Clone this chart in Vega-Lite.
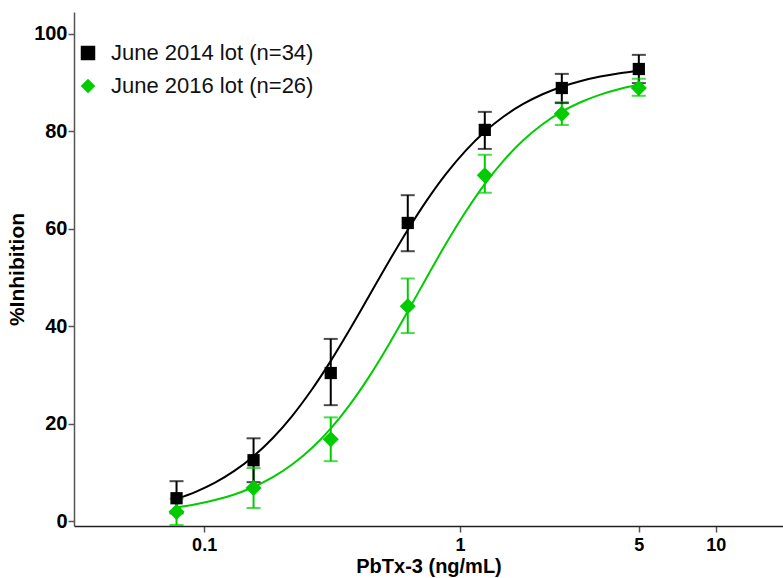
{
  "$schema": "https://vega.github.io/schema/vega-lite/v6.json",
  "width": 709,
  "height": 514,
  "autosize": {"type": "none"},
  "padding": {"left": 74, "top": 12, "right": 0, "bottom": 52},
  "background": "white",
  "datasets": {
    "pts": [
      {"series": "June 2016 lot (n=26)", "conc": 0.078, "inh": 1.9, "lo": -0.8, "hi": 4.6},
      {"series": "June 2016 lot (n=26)", "conc": 0.156, "inh": 6.8, "lo": 2.7, "hi": 10.9},
      {"series": "June 2016 lot (n=26)", "conc": 0.3125, "inh": 16.8, "lo": 12.3, "hi": 21.3},
      {"series": "June 2016 lot (n=26)", "conc": 0.625, "inh": 44.1, "lo": 38.6, "hi": 49.8},
      {"series": "June 2016 lot (n=26)", "conc": 1.25, "inh": 71.0, "lo": 67.4, "hi": 75.2},
      {"series": "June 2016 lot (n=26)", "conc": 2.5, "inh": 83.6, "lo": 81.3, "hi": 86.0},
      {"series": "June 2016 lot (n=26)", "conc": 5, "inh": 88.9, "lo": 87.3, "hi": 90.8},
      {"series": "June 2014 lot (n=34)", "conc": 0.078, "inh": 4.7, "lo": 1.6, "hi": 8.2},
      {"series": "June 2014 lot (n=34)", "conc": 0.156, "inh": 12.5, "lo": 8.0, "hi": 17.0},
      {"series": "June 2014 lot (n=34)", "conc": 0.3125, "inh": 30.4, "lo": 23.8, "hi": 37.4},
      {"series": "June 2014 lot (n=34)", "conc": 0.625, "inh": 61.2, "lo": 55.4, "hi": 66.9},
      {"series": "June 2014 lot (n=34)", "conc": 1.25, "inh": 80.3, "lo": 76.4, "hi": 84.0},
      {"series": "June 2014 lot (n=34)", "conc": 2.5, "inh": 88.9, "lo": 85.8, "hi": 91.8},
      {"series": "June 2014 lot (n=34)", "conc": 5, "inh": 92.8, "lo": 89.9, "hi": 95.7}
    ],
    "curve": [
      {"series": "June 2016 lot (n=26)", "conc": 0.078, "inh": 2.81},
      {"series": "June 2016 lot (n=26)", "conc": 0.0927, "inh": 3.45},
      {"series": "June 2016 lot (n=26)", "conc": 0.1103, "inh": 4.32},
      {"series": "June 2016 lot (n=26)", "conc": 0.1312, "inh": 5.48},
      {"series": "June 2016 lot (n=26)", "conc": 0.1561, "inh": 7.01},
      {"series": "June 2016 lot (n=26)", "conc": 0.1856, "inh": 9.01},
      {"series": "June 2016 lot (n=26)", "conc": 0.2207, "inh": 11.61},
      {"series": "June 2016 lot (n=26)", "conc": 0.2625, "inh": 14.9},
      {"series": "June 2016 lot (n=26)", "conc": 0.3122, "inh": 18.98},
      {"series": "June 2016 lot (n=26)", "conc": 0.3712, "inh": 23.91},
      {"series": "June 2016 lot (n=26)", "conc": 0.4416, "inh": 29.66},
      {"series": "June 2016 lot (n=26)", "conc": 0.5252, "inh": 36.11},
      {"series": "June 2016 lot (n=26)", "conc": 0.6246, "inh": 43.03},
      {"series": "June 2016 lot (n=26)", "conc": 0.743, "inh": 50.11},
      {"series": "June 2016 lot (n=26)", "conc": 0.8835, "inh": 57.03},
      {"series": "June 2016 lot (n=26)", "conc": 1.0507, "inh": 63.46},
      {"series": "June 2016 lot (n=26)", "conc": 1.2496, "inh": 69.19},
      {"series": "June 2016 lot (n=26)", "conc": 1.486, "inh": 74.1},
      {"series": "June 2016 lot (n=26)", "conc": 1.767, "inh": 78.17},
      {"series": "June 2016 lot (n=26)", "conc": 2.102, "inh": 81.45},
      {"series": "June 2016 lot (n=26)", "conc": 2.5, "inh": 84.03},
      {"series": "June 2016 lot (n=26)", "conc": 2.973, "inh": 86.02},
      {"series": "June 2016 lot (n=26)", "conc": 3.536, "inh": 87.55},
      {"series": "June 2016 lot (n=26)", "conc": 4.206, "inh": 88.7},
      {"series": "June 2016 lot (n=26)", "conc": 5, "inh": 89.56},
      {"series": "June 2014 lot (n=34)", "conc": 0.078, "inh": 4.55},
      {"series": "June 2014 lot (n=34)", "conc": 0.0927, "inh": 6.01},
      {"series": "June 2014 lot (n=34)", "conc": 0.1103, "inh": 7.89},
      {"series": "June 2014 lot (n=34)", "conc": 0.1312, "inh": 10.3},
      {"series": "June 2014 lot (n=34)", "conc": 0.1561, "inh": 13.33},
      {"series": "June 2014 lot (n=34)", "conc": 0.1856, "inh": 17.07},
      {"series": "June 2014 lot (n=34)", "conc": 0.2207, "inh": 21.57},
      {"series": "June 2014 lot (n=34)", "conc": 0.2625, "inh": 26.86},
      {"series": "June 2014 lot (n=34)", "conc": 0.3122, "inh": 32.84},
      {"series": "June 2014 lot (n=34)", "conc": 0.3712, "inh": 39.38},
      {"series": "June 2014 lot (n=34)", "conc": 0.4416, "inh": 46.24},
      {"series": "June 2014 lot (n=34)", "conc": 0.5252, "inh": 53.14},
      {"series": "June 2014 lot (n=34)", "conc": 0.6246, "inh": 59.77},
      {"series": "June 2014 lot (n=34)", "conc": 0.743, "inh": 65.9},
      {"series": "June 2014 lot (n=34)", "conc": 0.8835, "inh": 71.34},
      {"series": "June 2014 lot (n=34)", "conc": 1.0507, "inh": 76.01},
      {"series": "June 2014 lot (n=34)", "conc": 1.2496, "inh": 79.92},
      {"series": "June 2014 lot (n=34)", "conc": 1.486, "inh": 83.1},
      {"series": "June 2014 lot (n=34)", "conc": 1.767, "inh": 85.63},
      {"series": "June 2014 lot (n=34)", "conc": 2.102, "inh": 87.62},
      {"series": "June 2014 lot (n=34)", "conc": 2.5, "inh": 89.17},
      {"series": "June 2014 lot (n=34)", "conc": 2.973, "inh": 90.35},
      {"series": "June 2014 lot (n=34)", "conc": 3.536, "inh": 91.25},
      {"series": "June 2014 lot (n=34)", "conc": 4.206, "inh": 91.94},
      {"series": "June 2014 lot (n=34)", "conc": 5, "inh": 92.46}
    ]
  },
  "encoding": {
    "x": {"field": "conc", "type": "quantitative",
      "scale": {"type": "log", "domain": [0.031, 18.3], "nice": false},
      "axis": {"values": [0.1, 1, 5, 10], "labelExpr": "datum.value == 0.1 ? '0.1' : format(datum.value, 'd')", "title": "PbTx-3 (ng/mL)", "labelFontSize": 18, "titleFontSize": 20, "labelPadding": 4, "titlePadding": 2, "domainColor": "#222222"}}
  },
  "layer": [
    {
      "data": {"name": "curve"},
      "mark": {"type": "line", "strokeWidth": 2, "interpolate": "monotone"},
      "encoding": {
        "y": {"field": "inh", "type": "quantitative",
          "scale": {"domain": [-1, 104.5], "nice": false, "zero": false},
          "axis": {"values": [0, 20, 40, 60, 80, 100], "title": "%Inhibition", "labelFontSize": 20, "titleFontSize": 21, "labelPadding": 1, "titlePadding": 6}},
        "color": {"field": "series", "type": "nominal",
          "scale": {"domain": ["June 2014 lot (n=34)", "June 2016 lot (n=26)"], "range": ["#000000", "#00cc00"]}},
        "detail": {"field": "series"}
      }
    },
    {
      "data": {"name": "pts"},
      "mark": {"type": "rule", "strokeWidth": 2},
      "encoding": {
        "y": {"field": "lo", "type": "quantitative"},
        "y2": {"field": "hi"},
        "color": {"field": "series", "type": "nominal"}
      }
    },
    {
      "data": {"name": "pts"},
      "transform": [{"fold": ["lo", "hi"], "as": ["end", "val"]}],
      "mark": {"type": "tick", "orient": "horizontal", "size": 14, "thickness": 2},
      "encoding": {
        "y": {"field": "val", "type": "quantitative"},
        "color": {"field": "series", "type": "nominal"}
      }
    },
    {
      "data": {"name": "pts"},
      "mark": {"type": "point", "filled": true, "opacity": 1},
      "encoding": {
        "y": {"field": "inh", "type": "quantitative"},
        "shape": {"field": "series", "type": "nominal",
          "scale": {"domain": ["June 2014 lot (n=34)", "June 2016 lot (n=26)"], "range": ["square", "diamond"]}},
        "color": {"field": "series", "type": "nominal"},
        "size": {"condition": {"test": "datum.series === 'June 2014 lot (n=34)'", "value": 150}, "value": 260}
      }
    }
  ],
  "resolve": {"legend": {"color": "shared", "shape": "shared"}},
  "config": {
    "view": {"stroke": null},
    "font": "Liberation Sans",
    "axis": {"grid": false, "domainColor": "#555555", "domainWidth": 1.5, "tickColor": "#555555", "tickWidth": 1.5, "tickSize": 6, "labelFont": "Liberation Sans", "labelFontWeight": "bold", "labelColor": "#000000", "titleFont": "Liberation Sans", "titleFontWeight": "bold", "titleColor": "#000000"},
    "axisY": {"labelFontSize": 20},
    "legend": {"title": null, "orient": "none", "legendX": 3, "legendY": 30, "labelFontSize": 22, "labelFont": "Liberation Sans", "labelColor": "#111111", "labelLimit": 400, "symbolSize": 210, "symbolOpacity": 1, "symbolStrokeWidth": 0, "labelOffset": 12, "rowPadding": 11, "padding": 0}
  }
}
